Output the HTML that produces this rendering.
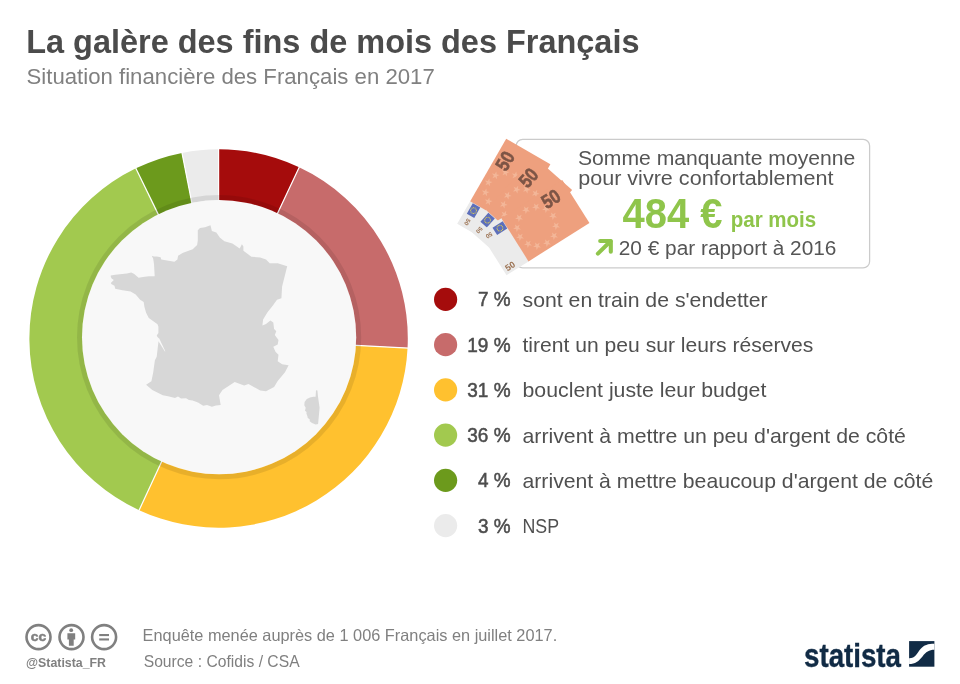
<!DOCTYPE html>
<html><head><meta charset="utf-8"><style>
html,body{margin:0;padding:0;background:#fff;}
svg{display:block;will-change:transform;}
text{font-family:"Liberation Sans",sans-serif;}
</style></head><body>
<svg width="960" height="684" viewBox="0 0 960 684">
<rect width="960" height="684" fill="#fff"/>
<text x="26.2" y="53" font-size="33" font-weight="bold" fill="#4b4b4b" textLength="613.3" lengthAdjust="spacingAndGlyphs">La galère des fins de mois des Français</text>
<text x="26.5" y="83.7" font-size="22.5" fill="#808080" textLength="408.3" lengthAdjust="spacingAndGlyphs">Situation financière des Français en 2017</text>

<g>
<path d="M218.60,149.30 A189.2,189.2 0 0 1 299.16,167.31 L275.65,217.25 A134.0,134.0 0 0 0 218.60,204.50 Z" fill="#a50c0c"/><path d="M299.16,167.31 A189.2,189.2 0 0 1 407.56,348.01 L352.43,345.23 A134.0,134.0 0 0 0 275.65,217.25 Z" fill="#c76b6b"/><path d="M407.56,348.01 A189.2,189.2 0 0 1 139.12,510.20 L162.31,460.10 A134.0,134.0 0 0 0 352.43,345.23 Z" fill="#ffc12f"/><path d="M139.12,510.20 A189.2,189.2 0 0 1 135.90,168.33 L160.03,217.98 A134.0,134.0 0 0 0 162.31,460.10 Z" fill="#a2c94f"/><path d="M135.90,168.33 A189.2,189.2 0 0 1 181.98,152.88 L192.66,207.03 A134.0,134.0 0 0 0 160.03,217.98 Z" fill="#6c9a1c"/><path d="M181.98,152.88 A189.2,189.2 0 0 1 218.60,149.30 L218.60,204.50 A134.0,134.0 0 0 0 192.66,207.03 Z" fill="#ebebeb"/>
</g>
<g stroke="#fff" stroke-width="1.2"><line x1="218.60" y1="148.30" x2="218.60" y2="205.50"/><line x1="299.58" y1="166.40" x2="275.23" y2="218.16"/><line x1="408.56" y1="348.06" x2="351.43" y2="345.18"/><line x1="138.70" y1="511.10" x2="162.73" y2="459.20"/><line x1="135.46" y1="167.43" x2="160.46" y2="218.88"/><line x1="181.79" y1="151.90" x2="192.86" y2="208.01"/></g>
<circle cx="219.1" cy="337.2" r="139.6" fill="none" stroke="rgba(0,0,0,0.09)" stroke-width="5"/>
<circle cx="219.1" cy="337.2" r="137.1" fill="#f8f8f8"/>
<path d="M210.5,225.2 L211.9,231.1 L216.3,232.5 L220.0,237.7 L224.4,241.3 L232.4,243.5 L239.7,248.6 L241.9,244.2 L243.4,246.4 L243.4,250.8 L251.4,256.7 L260.2,257.4 L266.0,259.6 L269.7,263.2 L277.7,263.2 L287.2,266.2 L282.1,286.6 L281.4,298.3 L277.0,299.8 L274.8,302.7 L273.3,305.0 L267.5,312.3 L263.1,319.6 L262.4,325.5 L266.0,324.0 L270.4,320.4 L273.3,322.5 L274.1,329.1 L276.3,331.3 L274.8,335.0 L278.5,340.1 L277.7,344.5 L273.3,346.7 L275.5,351.8 L278.5,354.7 L277.7,361.3 L282.1,364.2 L288.6,365.3 L285.0,372.3 L277.7,381.0 L274.1,386.9 L266.0,391.3 L260.2,390.5 L248.5,384.0 L244.1,385.4 L234.7,382.1 L222.5,390.0 L219.0,395.3 L220.7,405.0 L216.0,405.5 L211.9,406.7 L207.0,405.0 L203.2,405.8 L198.0,402.5 L192.6,400.5 L189.0,400.0 L186.0,398.3 L181.0,398.5 L178.0,396.5 L175.0,397.9 L168.0,396.2 L162.8,395.3 L152.3,390.0 L146.1,384.7 L151.4,381.2 L153.2,372.5 L154.9,360.2 L156.7,356.7 L158.5,341.2 L164.9,351.4 L165.3,351.2 L159.4,338.8 L157.5,337.0 L156.7,335.6 L158.4,333.0 L158.4,326.8 L157.5,324.2 L148.8,318.1 L146.1,312.8 L144.4,306.7 L143.7,301.9 L140.1,299.7 L135.7,294.6 L130.6,291.6 L122.5,290.2 L115.2,288.7 L114.5,285.8 L111.6,284.3 L110.8,282.9 L113.8,280.0 L111.6,278.5 L110.8,277.0 L110.8,275.6 L115.2,274.8 L126.9,273.4 L131.3,272.6 L134.2,274.1 L138.6,277.7 L143.0,277.0 L148.9,276.3 L154.7,276.3 L154.0,263.9 L153.2,258.7 L151.8,255.8 L154.0,256.6 L156.9,256.6 L160.6,257.3 L161.3,259.5 L174.4,261.7 L177.4,259.5 L178.1,255.8 L182.5,252.9 L192.7,249.2 L197.1,244.9 L197.8,240.5 L197.8,230.2 L200.0,228.0 L205.0,227.3 Z" fill="#d7d7d7"/>
<path d="M316.0,390.2 L317.4,390.6 L318.1,397.5 L319.6,407.8 L318.1,423.9 L315.6,424.6 L312.0,423.0 L309.7,421.3 L309.8,419.5 L307.6,417.8 L307.5,416.5 L306.4,413.6 L306.6,412.0 L305.0,410.7 L305.7,407.8 L304.3,405.2 L304.6,401.9 L306.8,399.0 L310.0,397.6 L313.4,396.8 L315.6,396.8 Z" fill="#d7d7d7"/>

<rect x="516.2" y="139.3" width="353.4" height="128.6" rx="6.5" fill="#fff" stroke="#cbcbcb" stroke-width="1.25"/>
<g transform="translate(457.2,223.7) rotate(-60)">
<rect x="0" y="0" width="26.5" height="51" fill="#ebebeb"/>
<rect x="26" y="0" width="72" height="51" fill="#eea07e"/>
<text x="71.0" y="29.2" font-size="10" text-anchor="middle" fill="#f3b698">★</text><text x="68.4" y="38.9" font-size="10" text-anchor="middle" fill="#f3b698">★</text><text x="61.2" y="46.1" font-size="10" text-anchor="middle" fill="#f3b698">★</text><text x="51.5" y="48.7" font-size="10" text-anchor="middle" fill="#f3b698">★</text><text x="41.8" y="46.1" font-size="10" text-anchor="middle" fill="#f3b698">★</text><text x="34.6" y="38.9" font-size="10" text-anchor="middle" fill="#f3b698">★</text><text x="32.0" y="29.2" font-size="10" text-anchor="middle" fill="#f3b698">★</text><text x="34.6" y="19.5" font-size="10" text-anchor="middle" fill="#f3b698">★</text><text x="41.7" y="12.3" font-size="10" text-anchor="middle" fill="#f3b698">★</text><text x="51.5" y="9.7" font-size="10" text-anchor="middle" fill="#f3b698">★</text><text x="61.2" y="12.3" font-size="10" text-anchor="middle" fill="#f3b698">★</text><text x="68.4" y="19.4" font-size="10" text-anchor="middle" fill="#f3b698">★</text>
<rect x="13.5" y="3.3" width="12" height="8.6" fill="#5d6fbb"/>
<circle cx="22.40" cy="7.60" r="0.55" fill="#e3d24f"/><circle cx="22.01" cy="9.05" r="0.55" fill="#e3d24f"/><circle cx="20.95" cy="10.11" r="0.55" fill="#e3d24f"/><circle cx="19.50" cy="10.50" r="0.55" fill="#e3d24f"/><circle cx="18.05" cy="10.11" r="0.55" fill="#e3d24f"/><circle cx="16.99" cy="9.05" r="0.55" fill="#e3d24f"/><circle cx="16.60" cy="7.60" r="0.55" fill="#e3d24f"/><circle cx="16.99" cy="6.15" r="0.55" fill="#e3d24f"/><circle cx="18.05" cy="5.09" r="0.55" fill="#e3d24f"/><circle cx="19.50" cy="4.70" r="0.55" fill="#e3d24f"/><circle cx="20.95" cy="5.09" r="0.55" fill="#e3d24f"/><circle cx="22.01" cy="6.15" r="0.55" fill="#e3d24f"/>
<text x="0" y="0" transform="translate(6.5,8) rotate(180)" font-size="6" font-weight="bold" fill="#9a7050" text-anchor="middle" dy="2.1">50</text>
<text x="2.8" y="48.3" font-size="9" font-weight="bold" fill="#9a7050" font-family="Liberation Sans">50</text>
<text x="69.2" y="16.8" font-size="19.5" font-weight="bold" fill="#7d5546" stroke="#7d5546" stroke-width="0.6" font-family="Liberation Sans" textLength="18.2" lengthAdjust="spacingAndGlyphs">50</text>
</g>
<g transform="translate(469,229.7) rotate(-48.5)">
<rect x="0" y="0" width="26.5" height="51" fill="#ebebeb"/>
<rect x="26" y="0" width="72" height="51" fill="#eea07e"/>
<text x="71.0" y="29.2" font-size="10" text-anchor="middle" fill="#f3b698">★</text><text x="68.4" y="38.9" font-size="10" text-anchor="middle" fill="#f3b698">★</text><text x="61.2" y="46.1" font-size="10" text-anchor="middle" fill="#f3b698">★</text><text x="51.5" y="48.7" font-size="10" text-anchor="middle" fill="#f3b698">★</text><text x="41.8" y="46.1" font-size="10" text-anchor="middle" fill="#f3b698">★</text><text x="34.6" y="38.9" font-size="10" text-anchor="middle" fill="#f3b698">★</text><text x="32.0" y="29.2" font-size="10" text-anchor="middle" fill="#f3b698">★</text><text x="34.6" y="19.5" font-size="10" text-anchor="middle" fill="#f3b698">★</text><text x="41.7" y="12.3" font-size="10" text-anchor="middle" fill="#f3b698">★</text><text x="51.5" y="9.7" font-size="10" text-anchor="middle" fill="#f3b698">★</text><text x="61.2" y="12.3" font-size="10" text-anchor="middle" fill="#f3b698">★</text><text x="68.4" y="19.4" font-size="10" text-anchor="middle" fill="#f3b698">★</text>
<rect x="13.5" y="3.3" width="12" height="8.6" fill="#5d6fbb"/>
<circle cx="22.40" cy="7.60" r="0.55" fill="#e3d24f"/><circle cx="22.01" cy="9.05" r="0.55" fill="#e3d24f"/><circle cx="20.95" cy="10.11" r="0.55" fill="#e3d24f"/><circle cx="19.50" cy="10.50" r="0.55" fill="#e3d24f"/><circle cx="18.05" cy="10.11" r="0.55" fill="#e3d24f"/><circle cx="16.99" cy="9.05" r="0.55" fill="#e3d24f"/><circle cx="16.60" cy="7.60" r="0.55" fill="#e3d24f"/><circle cx="16.99" cy="6.15" r="0.55" fill="#e3d24f"/><circle cx="18.05" cy="5.09" r="0.55" fill="#e3d24f"/><circle cx="19.50" cy="4.70" r="0.55" fill="#e3d24f"/><circle cx="20.95" cy="5.09" r="0.55" fill="#e3d24f"/><circle cx="22.01" cy="6.15" r="0.55" fill="#e3d24f"/>
<text x="0" y="0" transform="translate(6.5,8) rotate(180)" font-size="6" font-weight="bold" fill="#9a7050" text-anchor="middle" dy="2.1">50</text>
<text x="2.8" y="48.3" font-size="9" font-weight="bold" fill="#9a7050" font-family="Liberation Sans">50</text>
<text x="69.2" y="16.8" font-size="19.5" font-weight="bold" fill="#7d5546" stroke="#7d5546" stroke-width="0.6" font-family="Liberation Sans" textLength="18.2" lengthAdjust="spacingAndGlyphs">50</text>
</g>
<g transform="translate(479.35,232.1) rotate(-32.2)">
<rect x="0" y="0" width="26.5" height="51" fill="#ebebeb"/>
<rect x="26" y="0" width="72" height="51" fill="#eea07e"/>
<text x="71.0" y="29.2" font-size="10" text-anchor="middle" fill="#f3b698">★</text><text x="68.4" y="38.9" font-size="10" text-anchor="middle" fill="#f3b698">★</text><text x="61.2" y="46.1" font-size="10" text-anchor="middle" fill="#f3b698">★</text><text x="51.5" y="48.7" font-size="10" text-anchor="middle" fill="#f3b698">★</text><text x="41.8" y="46.1" font-size="10" text-anchor="middle" fill="#f3b698">★</text><text x="34.6" y="38.9" font-size="10" text-anchor="middle" fill="#f3b698">★</text><text x="32.0" y="29.2" font-size="10" text-anchor="middle" fill="#f3b698">★</text><text x="34.6" y="19.5" font-size="10" text-anchor="middle" fill="#f3b698">★</text><text x="41.7" y="12.3" font-size="10" text-anchor="middle" fill="#f3b698">★</text><text x="51.5" y="9.7" font-size="10" text-anchor="middle" fill="#f3b698">★</text><text x="61.2" y="12.3" font-size="10" text-anchor="middle" fill="#f3b698">★</text><text x="68.4" y="19.4" font-size="10" text-anchor="middle" fill="#f3b698">★</text>
<rect x="13.5" y="3.3" width="12" height="8.6" fill="#5d6fbb"/>
<circle cx="22.40" cy="7.60" r="0.55" fill="#e3d24f"/><circle cx="22.01" cy="9.05" r="0.55" fill="#e3d24f"/><circle cx="20.95" cy="10.11" r="0.55" fill="#e3d24f"/><circle cx="19.50" cy="10.50" r="0.55" fill="#e3d24f"/><circle cx="18.05" cy="10.11" r="0.55" fill="#e3d24f"/><circle cx="16.99" cy="9.05" r="0.55" fill="#e3d24f"/><circle cx="16.60" cy="7.60" r="0.55" fill="#e3d24f"/><circle cx="16.99" cy="6.15" r="0.55" fill="#e3d24f"/><circle cx="18.05" cy="5.09" r="0.55" fill="#e3d24f"/><circle cx="19.50" cy="4.70" r="0.55" fill="#e3d24f"/><circle cx="20.95" cy="5.09" r="0.55" fill="#e3d24f"/><circle cx="22.01" cy="6.15" r="0.55" fill="#e3d24f"/>
<text x="0" y="0" transform="translate(6.5,8) rotate(180)" font-size="6" font-weight="bold" fill="#9a7050" text-anchor="middle" dy="2.1">50</text>
<text x="2.8" y="48.3" font-size="9" font-weight="bold" fill="#9a7050" font-family="Liberation Sans">50</text>
<text x="69.2" y="16.8" font-size="19.5" font-weight="bold" fill="#7d5546" stroke="#7d5546" stroke-width="0.6" font-family="Liberation Sans" textLength="18.2" lengthAdjust="spacingAndGlyphs">50</text>
</g>
<text x="578" y="164.6" font-size="20" fill="#555" textLength="277.2" lengthAdjust="spacingAndGlyphs">Somme manquante moyenne</text>
<text x="578.2" y="184.7" font-size="20" fill="#555" textLength="255.3" lengthAdjust="spacingAndGlyphs">pour vivre confortablement</text>
<text x="622.6" y="227.7" font-size="42" font-weight="bold" fill="#8fc54b" textLength="100" lengthAdjust="spacingAndGlyphs">484 €</text>
<text x="730.7" y="226.5" font-size="22" font-weight="bold" fill="#8fc54b" textLength="85.5" lengthAdjust="spacingAndGlyphs">par mois</text>
<g fill="none" stroke="#8fc54b" stroke-width="4.1" stroke-linecap="round" stroke-linejoin="round"><path d="M600.2,241 L610.8,241 L610.8,251.8"/><path d="M597.9,253.6 L610.5,241.3"/></g>
<text x="618.8" y="254.9" font-size="20" fill="#555" textLength="217.6" lengthAdjust="spacingAndGlyphs">20 € par rapport à 2016</text>
<circle cx="445.6" cy="299.40" r="11.6" fill="#a50c0c"/>
<text x="510.6" y="306.40" font-size="21" fill="#4d4d4d" stroke="#4d4d4d" stroke-width="0.55" text-anchor="end" textLength="32.6" lengthAdjust="spacingAndGlyphs">7 %</text>
<text x="522.5" y="306.90" font-size="21" fill="#505050" textLength="245.1" lengthAdjust="spacingAndGlyphs">sont en train de s'endetter</text>
<circle cx="445.6" cy="344.64" r="11.6" fill="#c76b6b"/>
<text x="510.6" y="351.64" font-size="21" fill="#4d4d4d" stroke="#4d4d4d" stroke-width="0.55" text-anchor="end" textLength="43.3" lengthAdjust="spacingAndGlyphs">19 %</text>
<text x="522.5" y="352.14" font-size="21" fill="#505050" textLength="290.8" lengthAdjust="spacingAndGlyphs">tirent un peu sur leurs réserves</text>
<circle cx="445.6" cy="389.88" r="11.6" fill="#ffc12f"/>
<text x="510.6" y="396.88" font-size="21" fill="#4d4d4d" stroke="#4d4d4d" stroke-width="0.55" text-anchor="end" textLength="43.3" lengthAdjust="spacingAndGlyphs">31 %</text>
<text x="522.5" y="397.38" font-size="21" fill="#505050" textLength="243.8" lengthAdjust="spacingAndGlyphs">bouclent juste leur budget</text>
<circle cx="445.6" cy="435.12" r="11.6" fill="#a2c94f"/>
<text x="510.6" y="442.12" font-size="21" fill="#4d4d4d" stroke="#4d4d4d" stroke-width="0.55" text-anchor="end" textLength="43.3" lengthAdjust="spacingAndGlyphs">36 %</text>
<text x="522.5" y="442.62" font-size="21" fill="#505050" textLength="383.4" lengthAdjust="spacingAndGlyphs">arrivent à mettre un peu d'argent de côté</text>
<circle cx="445.6" cy="480.36" r="11.6" fill="#6c9a1c"/>
<text x="510.6" y="487.36" font-size="21" fill="#4d4d4d" stroke="#4d4d4d" stroke-width="0.55" text-anchor="end" textLength="32.6" lengthAdjust="spacingAndGlyphs">4 %</text>
<text x="522.5" y="487.86" font-size="21" fill="#505050" textLength="410.8" lengthAdjust="spacingAndGlyphs">arrivent à mettre beaucoup d'argent de côté</text>
<circle cx="445.6" cy="525.60" r="11.6" fill="#ebebeb"/>
<text x="510.6" y="532.60" font-size="21" fill="#4d4d4d" stroke="#4d4d4d" stroke-width="0.55" text-anchor="end" textLength="32.6" lengthAdjust="spacingAndGlyphs">3 %</text>
<text x="522.5" y="533.10" font-size="21" fill="#505050" textLength="36.6" lengthAdjust="spacingAndGlyphs">NSP</text>

<g fill="none" stroke="#808080" stroke-width="2.6">
<circle cx="38.5" cy="637.1" r="12"/>
<circle cx="71.5" cy="637.1" r="12"/>
<circle cx="104.1" cy="637.1" r="12"/>
</g>
<text x="38.5" y="641.2" font-size="13.5" font-weight="bold" fill="#808080" text-anchor="middle" stroke="#808080" stroke-width="0.5" textLength="15.5" lengthAdjust="spacingAndGlyphs">cc</text>
<circle cx="71.2" cy="630.2" r="1.9" fill="#808080"/>
<path d="M67.4,633.2 H75.2 V639.4 H73.7 V645.7 H68.9 V639.4 H67.4 Z" fill="#808080"/>
<rect x="99.2" y="634" width="9.8" height="2.1" fill="#808080"/>
<rect x="99.2" y="638.4" width="9.8" height="2.1" fill="#808080"/>
<text x="26" y="666.6" font-size="13" font-weight="bold" fill="#808080" textLength="80" lengthAdjust="spacingAndGlyphs">@Statista_FR</text>
<text x="142.6" y="641.4" font-size="16.5" fill="#808080" textLength="414.6" lengthAdjust="spacingAndGlyphs">Enquête menée auprès de 1 006 Français en juillet 2017.</text>
<text x="143.7" y="666.7" font-size="16.5" fill="#808080" textLength="155.9" lengthAdjust="spacingAndGlyphs">Source : Cofidis / CSA</text>
<text x="804" y="666.6" font-size="34" font-weight="bold" fill="#112b45" stroke="#112b45" stroke-width="0.4" textLength="97" lengthAdjust="spacingAndGlyphs">statista</text>
<g>
<rect x="909.1" y="641.1" width="25.3" height="25.6" fill="#112b45"/>
<path d="M909.1,658.3 C915.5,658.3 917,653 920.5,649 C924,645 928,643.7 934.4,643.7 L934.4,649.8 C929,649.8 926,652 922.5,656.5 C919,661 915,664.1 909.1,664.1 Z" fill="#fff"/>
</g>
</svg>
</body></html>
